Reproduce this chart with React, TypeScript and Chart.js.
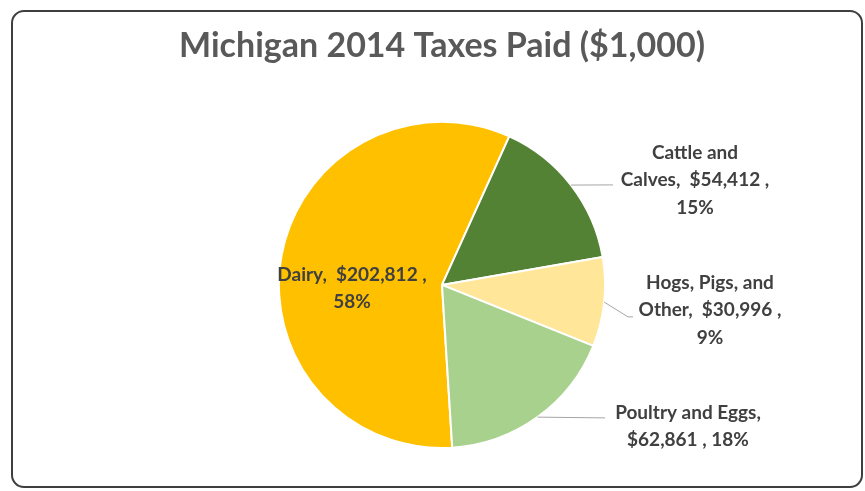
import React, { useEffect, useRef } from "react";
import { Chart, registerables } from "chart.js";

Chart.register(...registerables);

// ---- data ----
const chartTitle = "Michigan 2014 Taxes Paid ($1,000)";
const categories = ["Dairy", "Cattle and Calves", "Hogs, Pigs, and Other", "Poultry and Eggs"];
const taxesPaid = [202812, 54412, 30996, 62861];
const sliceColors = ["#FFC000", "#548235", "#FFE699", "#A9D18E"];
// how many words go on each label line (category words, value, percent)
const labelLineBreaks = [
  [2, 1],
  [2, 2, 1],
  [3, 2, 1],
  [3, 2],
];

// ---- label layout (relative to pie centre, px) ----
const labelStyle = [
  { dx: -90, dy: 3.5, leader: null as null | number[][] },
  { dx: 253, dy: -105, leader: [[171, -100]] },
  { dx: 268, dy: 25, leader: [[186, 32], [191, 32]] },
  { dx: 246, dy: 141.5, leader: [[163, 133]] },
];

const LABEL_FONT = "bold 19px Lato";
const LABEL_LINE_H = 27.5;
const TEXT_COLOR = "#404040";

function buildLabel(i: number, total: number): string[] {
  const v = taxesPaid[i];
  const pct = Math.round((v / total) * 100);
  const words = categories[i].split(" ");
  words[words.length - 1] = words[words.length - 1] + ",";
  const tokens = [...words, "\u0001$" + v.toLocaleString("en-US") + " ,", pct + "%"];
  const lines: string[] = [];
  let k = 0;
  for (const n of labelLineBreaks[i]) {
    const part = tokens.slice(k, k + n);
    k += n;
    const s = part
      .map((t, j) => (t.startsWith("\u0001") ? (j === 0 ? t.slice(1) : " " + t.slice(1)) : t))
      .join(" ");
    lines.push(s);
  }
  return lines;
}

const framePlugin = {
  id: "frame",
  beforeDraw(chart: any) {
    const ctx = chart.ctx;
    ctx.save();
    ctx.fillStyle = "#ffffff";
    ctx.fillRect(0, 0, chart.width, chart.height);
    ctx.beginPath();
    ctx.roundRect(12, 11, 850, 476, 12);
    ctx.strokeStyle = "#3f3f3f";
    ctx.lineWidth = 2;
    ctx.stroke();
    ctx.restore();
  },
};

const labelPlugin = {
  id: "sliceLabels",
  afterDatasetsDraw(chart: any) {
    const ctx = chart.ctx;
    const meta = chart.getDatasetMeta(0);
    const total = taxesPaid.reduce((a, b) => a + b, 0);
    ctx.save();
    meta.data.forEach((arc: any, i: number) => {
      const { x, y, startAngle, endAngle, outerRadius } = arc.getProps(
        ["x", "y", "startAngle", "endAngle", "outerRadius"],
        true
      );
      const st = labelStyle[i];
      const lines = buildLabel(i, total);
      ctx.font = LABEL_FONT;
      if (st.leader) {
        const mid = (startAngle + endAngle) / 2;
        ctx.beginPath();
        ctx.moveTo(x + Math.cos(mid) * outerRadius, y + Math.sin(mid) * outerRadius);
        st.leader.forEach((p) => ctx.lineTo(x + p[0], y + p[1]));
        ctx.strokeStyle = "#a6a6a6";
        ctx.lineWidth = 1;
        ctx.stroke();
      }
      ctx.fillStyle = TEXT_COLOR;
      ctx.textAlign = "center";
      ctx.textBaseline = "middle";
      const cx = x + st.dx;
      const cy = y + st.dy;
      const h = (lines.length - 1) * LABEL_LINE_H;
      lines.forEach((ln, j) => {
        ctx.fillText(ln, cx, cy - h / 2 + j * LABEL_LINE_H);
      });
    });
    ctx.restore();
  },
};

export default function App() {
  const ref = useRef<HTMLCanvasElement | null>(null);
  useEffect(() => {
    if (!ref.current) return;
    const chart = new Chart(ref.current, {
      type: "pie",
      data: {
        labels: categories,
        datasets: [
          {
            data: taxesPaid,
            backgroundColor: sliceColors,
            borderColor: "#ffffff",
            borderWidth: 2,
          },
        ],
      },
      options: {
        responsive: false,
        animation: false,
        rotation: 176.4,
        layout: { padding: { left: 19, right: 0, top: 0, bottom: 42 } },
        plugins: {
          legend: { display: false },
          tooltip: { enabled: false },
          title: {
            display: true,
            text: chartTitle,
            color: "#595959",
            font: { family: "Lato", size: 34, weight: "bold", lineHeight: 1.2 },
            padding: { top: 26, bottom: 54 },
          },
        },
      },
      plugins: [framePlugin, labelPlugin],
    });
    return () => chart.destroy();
  }, []);
  return (
    <div style={{ position: "absolute", left: 0, top: 0, width: 865, height: 491 }}>
      <canvas ref={ref} width={865} height={491} />
    </div>
  );
}
